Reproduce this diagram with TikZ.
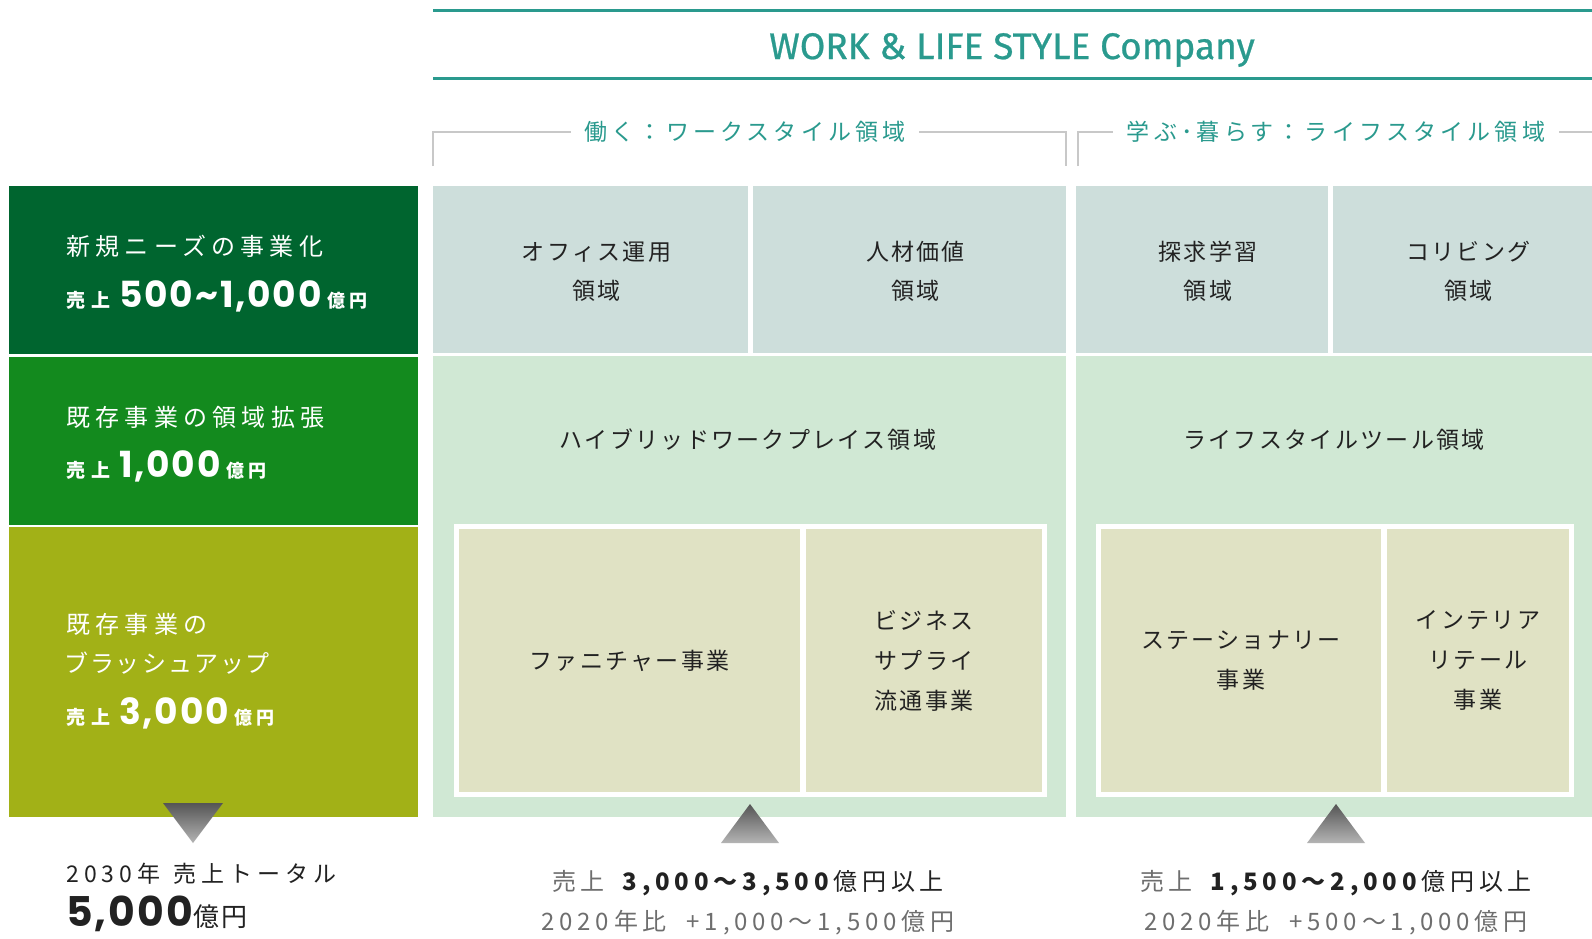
\documentclass[tikz,border=0pt]{standalone}
\usepackage{fontspec}
\usepackage{graphicx}
\newfontfamily\jpA{Noto Sans CJK JP}[LetterSpace=22]
\newfontfamily\jpP{Noto Sans CJK JP}[LetterSpace=22,RawFeature=+palt]
\newfontfamily\jpB{Noto Sans CJK JP}[LetterSpace=10]
\newfontfamily\jpC{Noto Sans CJK JP}[LetterSpace=18]
\newfontfamily\jpD{Noto Sans CJK JP}[LetterSpace=20]
\newfontfamily\numf{Poppins}[LetterSpace=5]
\newfontfamily\ttlf{Fira Sans}[FakeBold=0.7]
\definecolor{dkgreen}{HTML}{00652F}
\definecolor{mdgreen}{HTML}{138A1E}
\definecolor{olivebox}{HTML}{A2B117}
\definecolor{bluegray}{HTML}{CDDEDB}
\definecolor{ltgreen}{HTML}{D0E8D4}
\definecolor{beige}{HTML}{E0E2C4}
\definecolor{tealc}{HTML}{2A9A8E}
\definecolor{brk}{HTML}{C8C8C8}
\definecolor{txt}{HTML}{222222}
\definecolor{gtxt}{HTML}{6E6E6E}
\definecolor{tridark}{HTML}{555555}
\definecolor{trilight}{HTML}{B4B4B4}
\newcommand\uriage{{\jpA\fontsize{19}{20}\selectfont\bfseries 売\hspace{6pt}上}\hspace{9pt}}
\newcommand\okuen{\hspace{6pt}{\jpA\fontsize{18}{20}\selectfont\bfseries 億円}}
\begin{document}
\begin{tikzpicture}[x=1pt,y=-1pt,
  box/.style={rectangle,inner sep=0pt,outer sep=0pt,anchor=north west,draw=none},
  lbl/.style={inner sep=0pt,align=center,text=txt,font={\jpB\fontsize{23}{39}\selectfont}},
  head/.style={inner sep=0pt,anchor=west,text=white,font={\jpA\fontsize{24}{30}\selectfont}},
  sales/.style={inner sep=0pt,anchor=base west,text=white},
  brlabel/.style={fill=white,inner xsep=14pt,inner ysep=2pt,text=tealc,font={\jpC\fontsize{23}{28}\selectfont}},
  bracket/.style={draw=brk,line width=2.5pt},
  tline/.style={draw=tealc,line width=3pt},
  tri/.style={top color=tridark,bottom color=trilight},
  bottomtxt/.style={inner sep=0pt,font={\jpD\fontsize{24}{30}\selectfont}}]
\useasboundingbox (0,0) rectangle (1592,938);
\fill[white] (0,0) rectangle (1592,938);

% left column
\node[box,fill=dkgreen,minimum width=409pt,minimum height=168pt] (L1) at (9,186) {};
\node[box,fill=mdgreen,minimum width=409pt,minimum height=168pt] (L2) at (9,357) {};
\node[box,fill=olivebox,minimum width=409pt,minimum height=290pt] (L3) at (9,527) {};

\node[head] (h1) at (66,246) {新規ニーズの事業化};
\node[sales] (s1) at (66,307) {\uriage{\numf\bfseries\fontsize{36}{36}\selectfont 500\hspace{2pt}\textasciitilde\hspace{2pt}1,000}\okuen};
\node[head] (h2) at (66,417) {既存事業の領域拡張};
\node[sales] (s2) at (66,477) {\uriage{\numf\bfseries\fontsize{36}{36}\selectfont 1,000}\okuen};
\node[head] (h3) at (66,624) {既存事業の};
\node[head,font={\jpP\fontsize{24}{30}\selectfont}] (h4) at (66,663) {ブラッシュアップ};
\node[sales] (s3) at (66,724) {\uriage{\numf\bfseries\fontsize{36}{36}\selectfont 3,000}\okuen};

\shade[tri] (163,803) -- (223,803) -- (193,843) -- cycle;
\node[inner sep=0pt,anchor=west,text=txt,font={\jpA\fontsize{23}{28}\selectfont}] (total) at (66,874) {2030年\hspace{13pt}売上トータル};
\node[inner sep=0pt,anchor=base west,text=txt] (totalv) at (66,926) {{\numf\bfseries\fontsize{41}{41}\selectfont 5,000}{\jpB\fontsize{26}{28}\selectfont 億円}};

% title
\draw[tline] (433,10) -- (1592,10);
\draw[tline] (433,78) -- (1592,78);
\node[inner sep=0pt,text=tealc,font={\ttlf\fontsize{37}{40}\selectfont}] (title) at (1012,50) {WORK \& LIFE STYLE Company};

% brackets
\draw[bracket] (433,166) -- (433,132) -- (1066,132) -- (1066,166);
\draw[bracket] (1078,166) -- (1078,132) -- (1592,132);
\node[brlabel] (work) at (745,132) {働く：ワークスタイル領域};
\node[brlabel] (life) at (1336,132) {学ぶ･暮らす：ライフスタイル領域};

% top boxes
\node[box,fill=bluegray,minimum width=315pt,minimum height=167pt] (T1) at (433,186) {};
\node[box,fill=bluegray,minimum width=313pt,minimum height=167pt] (T2) at (753,186) {};
\node[box,fill=bluegray,minimum width=252pt,minimum height=167pt] (T3) at (1076,186) {};
\node[box,fill=bluegray,minimum width=259pt,minimum height=167pt] (T4) at (1333,186) {};
\node[lbl] at ([xshift=6pt,yshift=-2pt]T1.center) {オフィス運用\\領域};
\node[lbl] at ([xshift=6pt,yshift=-2pt]T2.center) {人材価値\\領域};
\node[lbl] at ([xshift=6pt,yshift=-2pt]T3.center) {探求学習\\領域};
\node[lbl] at ([xshift=6pt,yshift=-2pt]T4.center) {コリビング\\領域};

% light green areas
\node[box,fill=ltgreen,minimum width=633pt,minimum height=461pt] (G1) at (433,356) {};
\node[box,fill=ltgreen,minimum width=516pt,minimum height=461pt] (G2) at (1076,356) {};
\node[lbl] (hyb) at (748,440) {ハイブリッドワークプレイス領域};
\node[lbl] (lst) at (1334,440) {ライフスタイルツール領域};

% white frames and beige boxes
\node[box,fill=white,minimum width=593pt,minimum height=273pt] (W1) at (454,524) {};
\node[box,fill=white,minimum width=478pt,minimum height=273pt] (W2) at (1096,524) {};
\node[box,fill=beige,minimum width=341pt,minimum height=263pt] (B1) at (459,529) {};
\node[box,fill=beige,minimum width=236pt,minimum height=263pt] (B2) at (806,529) {};
\node[box,fill=beige,minimum width=280pt,minimum height=263pt] (B3) at (1101,529) {};
\node[box,fill=beige,minimum width=182pt,minimum height=263pt] (B4) at (1387,529) {};
\node[lbl,font={\jpB\fontsize{23}{40}\selectfont}] at (B1.center) {ファニチャー事業};
\node[lbl,font={\jpB\fontsize{23}{40}\selectfont}] at (B2.center) {ビジネス\\サプライ\\流通事業};
\node[lbl,font={\jpB\fontsize{23}{40}\selectfont}] at (B3.center) {ステーショナリー\\事業};
\node[lbl,font={\jpB\fontsize{23}{40}\selectfont}] at (B4.center) {インテリア\\リテール\\事業};

% up triangles
\shade[tri] (750,804) -- (779,843) -- (721,843) -- cycle;
\shade[tri] (1336,804) -- (1365,843) -- (1307,843) -- cycle;

% bottom texts
\node[bottomtxt,text=txt] (ws) at (748,883) {\textcolor{gtxt}{売上}\hspace{18pt}\textbf{3,000～3,500}億円以上};
\node[bottomtxt,text=gtxt] (wd) at (748,923) {2020年比\hspace{20pt}+1,000～1,500億円};
\node[bottomtxt,text=txt] (ls) at (1336,883) {\textcolor{gtxt}{売上}\hspace{18pt}\textbf{1,500～2,000}億円以上};
\node[bottomtxt,text=gtxt] (ld) at (1336,923) {2020年比\hspace{20pt}+500～1,000億円};
\end{tikzpicture}
\end{document}
